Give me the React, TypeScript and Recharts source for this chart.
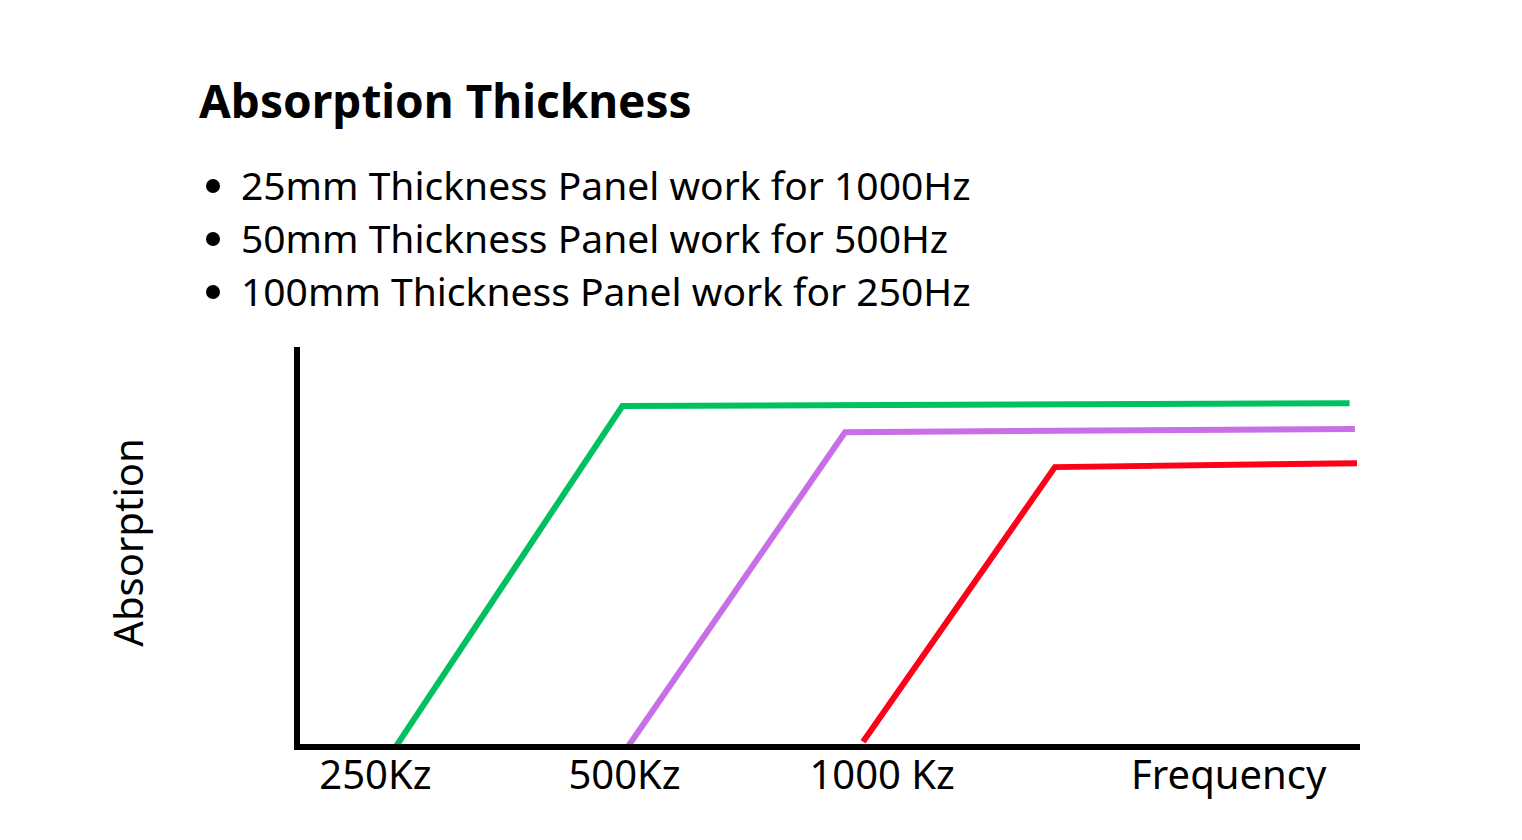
import { Label, Line, LineChart, XAxis, YAxis } from "recharts";

// x: 0..100 across the frequency axis, y: 0..100 absorption (arbitrary units)
const panel25mm = [
  { x: 9.1, y: -0.8 },
  { x: 30.7, y: 85.9 },
  { x: 99.3, y: 86.6 },
];
const panel50mm = [
  { x: 31.2, y: 0 },
  { x: 51.7, y: 79.3 },
  { x: 99.8, y: 80.1 },
];
const panel100mm = [
  { x: 53.4, y: 1.3 },
  { x: 71.5, y: 70.5 },
  { x: 100, y: 71.5 },
];

const tickPositions = [7.4, 30.9, 55.2, 87.9];
const tickLabels = ["250Kz", "500Kz", "1000 Kz", "Frequency"];

const bullets = [
  "25mm Thickness Panel work for 1000Hz",
  "50mm Thickness Panel work for 500Hz",
  "100mm Thickness Panel work for 250Hz",
];

const FONT = '"Noto Sans", sans-serif';

function FrequencyTick({ x, y, payload }: any) {
  const i = tickPositions.indexOf(payload.value);
  return (
    <text x={x} y={y} dy={34} textAnchor="middle" fontFamily={FONT} fontSize={40} fill="#000">
      {tickLabels[i]}
    </text>
  );
}

function AbsorptionLabel({ viewBox }: any) {
  const cx = 127;
  const cy = viewBox.y + viewBox.height / 2 - 6;
  return (
    <text
      x={cx}
      y={cy}
      transform={`rotate(-90 ${cx} ${cy})`}
      textAnchor="middle"
      dominantBaseline="central"
      fontFamily={FONT}
      fontSize={40}
      fill="#000"
    >
      Absorption
    </text>
  );
}

export default function App() {
  return (
    <div style={{ position: "fixed", left: 0, top: 0, width: 1522, height: 840, background: "#fff" }}>
      <div
        style={{
          position: "absolute",
          left: 199,
          top: 70,
          fontFamily: FONT,
          fontWeight: 700,
          fontSize: 46,
          lineHeight: "60px",
          color: "#000",
          whiteSpace: "nowrap",
        }}
      >
        Absorption Thickness
      </div>
      <ul
        style={{
          position: "absolute",
          left: 0,
          top: 158,
          margin: 0,
          paddingLeft: 241,
          fontFamily: FONT,
          fontSize: 39,
          lineHeight: "53px",
          color: "#000",
          whiteSpace: "nowrap",
        }}
      >
        {bullets.map((b) => (
          <li key={b}>{b}</li>
        ))}
      </ul>
      <div style={{ position: "absolute", left: 0, top: 0 }}>
        <LineChart
          width={1522}
          height={840}
          margin={{ top: 350, left: 237, right: 165, bottom: 33 }}
        >
          <XAxis
            type="number"
            dataKey="x"
            domain={[0, 100]}
            allowDataOverflow
            ticks={tickPositions}
            tick={<FrequencyTick />}
            tickLine={false}
            height={60}
            axisLine={{ stroke: "#000", strokeWidth: 6, strokeLinecap: "square" }}
          />
          <YAxis
            type="number"
            dataKey="y"
            domain={[0, 100]}
            allowDataOverflow
            tick={false}
            tickLine={false}
            width={60}
            axisLine={{ stroke: "#000", strokeWidth: 6, strokeLinecap: "square" }}
          >
            <Label content={<AbsorptionLabel />} />
          </YAxis>
          <Line
            data={panel25mm}
            dataKey="y"
            stroke="#00c060"
            strokeWidth={6}
            dot={false}
            activeDot={false}
            isAnimationActive={false}
          />
          <Line
            data={panel50mm}
            dataKey="y"
            stroke="#c86ee6"
            strokeWidth={6}
            dot={false}
            activeDot={false}
            isAnimationActive={false}
          />
          <Line
            data={panel100mm}
            dataKey="y"
            stroke="#ff0019"
            strokeWidth={6}
            dot={false}
            activeDot={false}
            isAnimationActive={false}
          />
        </LineChart>
      </div>
    </div>
  );
}
